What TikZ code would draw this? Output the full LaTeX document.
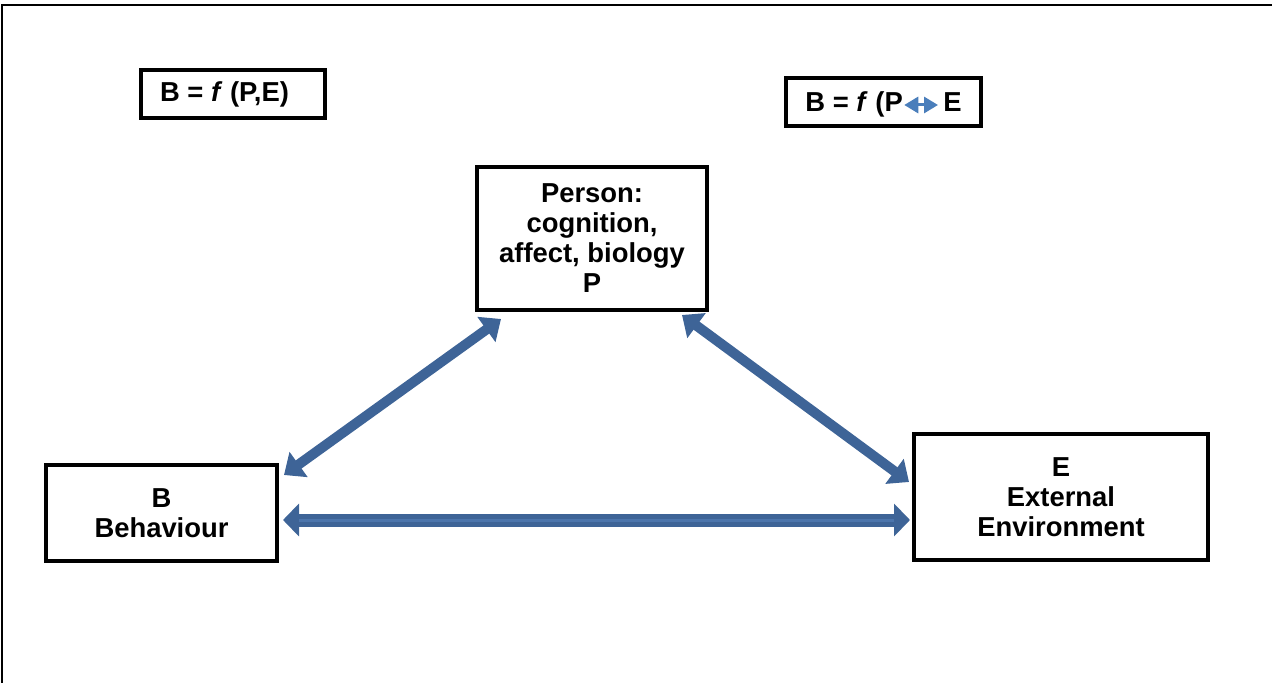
\documentclass[tikz,border=0pt]{standalone}
\usepackage{fontspec}
\setmainfont{Liberation Sans}
\usetikzlibrary{arrows.meta,calc}
\definecolor{arrblue}{HTML}{3E6497}
\definecolor{arrlight}{HTML}{4C75AC}
\definecolor{smallblue}{HTML}{4A7EBB}
\tikzset{
  box/.style={draw=black, line width=2pt, fill=white, inner sep=0pt, align=center,
    font=\fontsize{13.7}{15}\selectfont\bfseries},
  formtext/.style={inner sep=0pt, font=\fontsize{13.7}{15}\selectfont\bfseries},
  diagarrow/.style={draw=arrblue, line width=5pt,
    {Triangle[width=15pt,length=9pt]}-{Triangle[width=15pt,length=9pt]}},
  horizarrow/.style={draw=arrblue, line width=6.5pt,
    {Triangle[width=16pt,length=8pt]}-{Triangle[width=16pt,length=8pt]}},
  smallarrow/.style={draw=smallblue, line width=1.5pt,
    {Triangle[width=8pt,length=7pt]}-{Triangle[width=8pt,length=7pt]}}
}
\begin{document}
\begin{tikzpicture}[x=0.5pt,y=-0.5pt]
\useasboundingbox (0,0) rectangle (1272,683);
% outer frame (partially visible)
\draw[line width=1.1pt] (2,683) -- (2,5) -- (1272,5);

% formula boxes
\node[box, minimum width=92pt, minimum height=24pt] (f1) at (232.5,94) {\hspace{-8pt}B = \textit{f} (P,E)};
\node[box, minimum width=97.5pt, minimum height=24pt] (f2) at (883.5,102) {};
\node[formtext, anchor=base west] (f2a) at (805,112) {B = \textit{f} (P};
\node[formtext, anchor=base west] (f2b) at (943,112) {E};
\draw[smallarrow] ([shift={(1,-7)}]f2a.base east) -- ([shift={(-5,-7)}]f2b.base west);

% main boxes
\node[box, minimum width=115pt, minimum height=71.5pt] (P) at (592,238.5)
  {Person:\\cognition,\\affect, biology\\P};
\node[box, minimum width=115.5pt, minimum height=48pt] (B) at (161.5,513)
  {B\\Behaviour};
\node[box, minimum width=147pt, minimum height=63pt] (E) at (1061,497)
  {E\\External\\Environment};

% connectors
\draw[diagarrow] ([shift={(5,12)}]B.north east) -- ([shift={(26,7)}]P.south west);
\draw[diagarrow] ([shift={(-27,3)}]P.south east) -- ([shift={(-3,50)}]E.north west);
\draw[horizarrow] ([shift={(4,7)}]B.east) -- ([shift={(-2,23)}]E.west);
\draw[arrlight, line width=1.5pt] ([shift={(20,7)}]B.east) -- ([shift={(-18,23)}]E.west);
\end{tikzpicture}
\end{document}
